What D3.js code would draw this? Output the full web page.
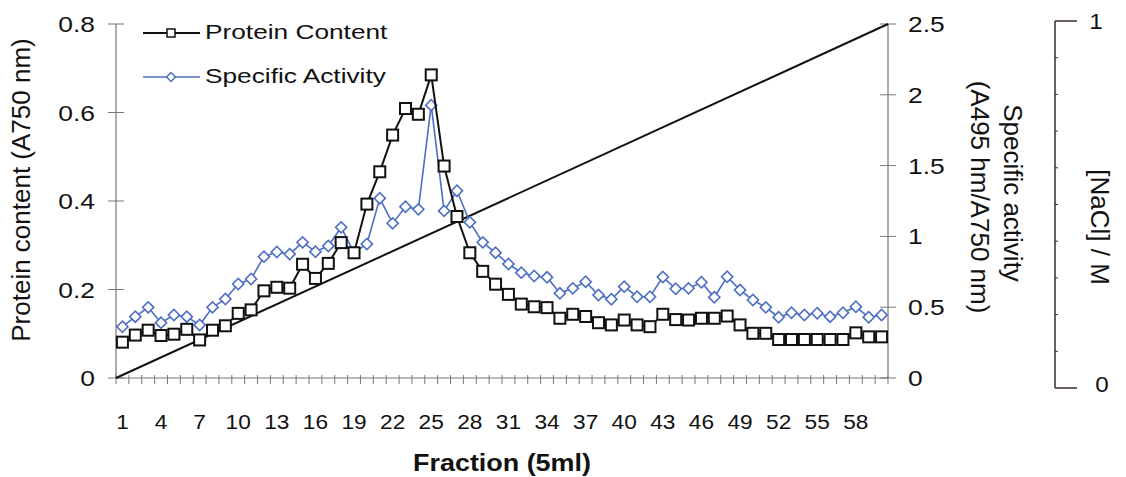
<!DOCTYPE html>
<html>
<head>
<meta charset="utf-8">
<script src="https://cdn.jsdelivr.net/npm/d3@7"></script>
<style>
  body { margin: 0; background: #fff; }
  text { font-family: "Liberation Sans", Arial, sans-serif; fill: #111; }
</style>
</head>
<body>
<div id="graf"></div>
<script>
const fractions = [1, 2, 3, 4, 5, 6, 7, 8, 9, 10, 11, 12, 13, 14, 15, 16, 17, 18, 19, 20,
  21, 22, 23, 24, 25, 26, 27, 28, 29, 30, 31, 32, 33, 34, 35, 36, 37, 38, 39, 40,
  41, 42, 43, 44, 45, 46, 47, 48, 49, 50, 51, 52, 53, 54, 55, 56, 57, 58, 59, 60]

const protein = [0.081, 0.097, 0.108, 0.096, 0.099, 0.110, 0.086, 0.108, 0.118, 0.146,
  0.154, 0.197, 0.205, 0.203, 0.257, 0.225, 0.259, 0.306, 0.283, 0.393,
  0.466, 0.549, 0.609, 0.596, 0.685, 0.479, 0.365, 0.283, 0.241, 0.212,
  0.189, 0.167, 0.161, 0.159, 0.135, 0.144, 0.139, 0.125, 0.120, 0.131,
  0.120, 0.116, 0.144, 0.132, 0.131, 0.135, 0.135, 0.140, 0.120, 0.101,
  0.101, 0.087, 0.087, 0.087, 0.087, 0.087, 0.087, 0.102, 0.093, 0.093]

const activity = [0.362, 0.433, 0.499, 0.390, 0.445, 0.433, 0.374, 0.499, 0.558, 0.664,
  0.699, 0.857, 0.890, 0.875, 0.958, 0.892, 0.932, 1.064, 0.885, 0.946,
  1.269, 1.092, 1.209, 1.191, 1.927, 1.180, 1.322, 1.100, 0.958, 0.885,
  0.805, 0.744, 0.720, 0.711, 0.598, 0.633, 0.680, 0.586, 0.556, 0.645,
  0.574, 0.574, 0.713, 0.630, 0.633, 0.676, 0.570, 0.715, 0.621, 0.551,
  0.499, 0.429, 0.461, 0.445, 0.457, 0.433, 0.461, 0.503, 0.429, 0.445]

// NaCl gradient: start and end of the linear gradient
const naclFraction = [0.5, 60.5]
const naclConc = [0, 1]

const xTickLabels = [1, 4, 7, 10, 13, 16, 19, 22, 25, 28, 31, 34, 37, 40, 43, 46, 49, 52, 55, 58]
const leftTicks = [0, 0.2, 0.4, 0.6, 0.8]
const rightTicks = [0, 0.5, 1, 1.5, 2, 2.5]
const naclTicks = [0, 1]

const blue = "#4d6ec4"

const svg = d3.select("#graf")
  .append("svg")
  .attr("width", 1126)
  .attr("height", 477)

svg.append("rect").attr("width", 1126).attr("height", 477).attr("fill", "#fff")

const pLeft = 116, pRight = 888, pTop = 24, pBottom = 378

const x = d3.scaleLinear().domain([0.5, 60.5]).range([pLeft, pRight])
const yL = d3.scaleLinear().domain([0, 0.8]).range([pBottom, pTop])
const yR = d3.scaleLinear().domain([0, 2.5]).range([pBottom, pTop])
const yN = d3.scaleLinear().domain([0, 1]).range([pBottom, pTop])
const yNaxis = d3.scaleLinear().domain([0, 1]).range([388, 21])

// stretched text helper (the reference text is wider than it is tall)
const txt = (px, py, s, opt = {}) => {
  const t = svg.append("text")
    .attr("transform", `translate(${px},${py}) rotate(${opt.rot || 0}) scale(${opt.sx || 1},1)`)
    .attr("text-anchor", opt.anchor || "start")
    .style("font-size", (opt.size || 21) + "px")
    .text(s)
  if (opt.bold) t.style("font-weight", "bold")
  if (opt.dy) t.attr("dy", opt.dy)
  return t
}

// axes ---------------------------------------------------------
const axisCol = "#777"

// x axis line + cross ticks at category boundaries
svg.append("line").attr("x1", pLeft).attr("x2", pRight).attr("y1", pBottom).attr("y2", pBottom)
  .attr("stroke", axisCol).attr("stroke-width", 1.2)
const bounds = fractions.map(f => f - 0.5).concat([60.5])
svg.append("g").selectAll("line").data(bounds).enter().append("line")
  .attr("x1", d => x(d)).attr("x2", d => x(d))
  .attr("y1", pBottom - 3).attr("y2", pBottom + 6)
  .attr("stroke", axisCol).attr("stroke-width", 1)

xTickLabels.forEach(f => txt(x(f), 429, f, { anchor: "middle", size: 21, sx: 1.08 }))
txt(502, 471, "Fraction (5ml)", { anchor: "middle", size: 23, bold: true, sx: 1.17 })

// left axis
svg.append("line").attr("x1", pLeft).attr("x2", pLeft).attr("y1", pTop).attr("y2", pBottom)
  .attr("stroke", axisCol).attr("stroke-width", 1.2)
leftTicks.forEach(v => {
  svg.append("line").attr("x1", pLeft - 8).attr("x2", pLeft + 8).attr("y1", yL(v)).attr("y2", yL(v))
    .attr("stroke", axisCol).attr("stroke-width", 1)
  txt(95, yL(v) + 8, v === 0 ? "0" : v.toFixed(1), { anchor: "end", size: 22, sx: 1.2 })
})
txt(21, 190, "Protein content (A750 nm)", { anchor: "middle", size: 26, rot: -90, dy: "0.35em" })

// right axis
svg.append("line").attr("x1", pRight).attr("x2", pRight).attr("y1", pTop).attr("y2", pBottom)
  .attr("stroke", axisCol).attr("stroke-width", 1.2)
rightTicks.forEach(v => {
  svg.append("line").attr("x1", pRight - 8).attr("x2", pRight + 8).attr("y1", yR(v)).attr("y2", yR(v))
    .attr("stroke", axisCol).attr("stroke-width", 1)
  txt(908, yR(v) + 8, String(v), { anchor: "start", size: 22, sx: 1.2 })
})
txt(1013, 193, "Specific activity", { anchor: "middle", size: 26, rot: 90, dy: "0.35em" })
txt(980, 197, "(A495 hm/A750 nm)", { anchor: "middle", size: 26, rot: 90, dy: "0.35em" })

// NaCl bracket axis
const nx = 1055
svg.append("line").attr("x1", nx).attr("x2", nx).attr("y1", yNaxis(1)).attr("y2", yNaxis(0))
  .attr("stroke", "#3a2c2c").attr("stroke-width", 1.5)
naclTicks.forEach(v => {
  svg.append("line").attr("x1", nx).attr("x2", nx + 22).attr("y1", yNaxis(v)).attr("y2", yNaxis(v))
    .attr("stroke", "#3a2c2c").attr("stroke-width", 1.5)
})
svg.append("g").selectAll("line").data(d3.range(0.1, 1, 0.1)).enter().append("line")
  .attr("x1", nx).attr("x2", nx + 3).attr("y1", d => yNaxis(d)).attr("y2", d => yNaxis(d))
  .attr("stroke", "#3a2c2c").attr("stroke-width", 1)
txt(1096, yNaxis(1) + 8, "1", { anchor: "middle", size: 22, sx: 1.1 })
txt(1102, yNaxis(0) + 4, "0", { anchor: "middle", size: 22, sx: 1.1 })
txt(1100, 227, "[NaCl] / M", { anchor: "middle", size: 26, rot: 90, dy: "0.35em" })

// data ---------------------------------------------------------
const data = fractions.map((f, i) => ({ f, p: protein[i], a: activity[i] }))

// NaCl gradient line
svg.append("path")
  .datum(naclFraction.map((f, i) => [f, naclConc[i]]))
  .attr("fill", "none").attr("stroke", "#111").attr("stroke-width", 2)
  .attr("d", d3.line().x(d => x(d[0])).y(d => yN(d[1])))

// specific activity
svg.append("path").datum(data)
  .attr("fill", "none").attr("stroke", blue).attr("stroke-width", 1.6)
  .attr("d", d3.line().x(d => x(d.f)).y(d => yR(d.a)))

const diamond = d3.symbol().type(d3.symbolSquare).size(62)
svg.append("g").selectAll("path").data(data).enter().append("path")
  .attr("d", diamond)
  .attr("transform", d => `translate(${x(d.f)},${yR(d.a)}) rotate(45)`)
  .attr("fill", "#fff").attr("stroke", blue).attr("stroke-width", 1.6)

// protein content
svg.append("path").datum(data)
  .attr("fill", "none").attr("stroke", "#111").attr("stroke-width", 2)
  .attr("d", d3.line().x(d => x(d.f)).y(d => yL(d.p)))

svg.append("g").selectAll("rect").data(data).enter().append("rect")
  .attr("x", d => x(d.f) - 5.5).attr("y", d => yL(d.p) - 5.5)
  .attr("width", 11).attr("height", 11)
  .attr("fill", "#fff").attr("stroke", "#111").attr("stroke-width", 2)

// legend -------------------------------------------------------
svg.append("line").attr("x1", 143).attr("x2", 200).attr("y1", 33).attr("y2", 33)
  .attr("stroke", "#111").attr("stroke-width", 2)
svg.append("rect").attr("x", 167).attr("y", 29).attr("width", 8).attr("height", 8)
  .attr("fill", "#fff").attr("stroke", "#111").attr("stroke-width", 1.5)
txt(205, 39, "Protein Content", { size: 21, sx: 1.25 })

svg.append("line").attr("x1", 143).attr("x2", 200).attr("y1", 77).attr("y2", 77)
  .attr("stroke", blue).attr("stroke-width", 1.6)
svg.append("path").attr("d", d3.symbol().type(d3.symbolSquare).size(40))
  .attr("transform", "translate(171,77) rotate(45)")
  .attr("fill", "#fff").attr("stroke", blue).attr("stroke-width", 1.5)
txt(205, 83, "Specific Activity", { size: 21, sx: 1.25 })
</script>
</body>
</html>
